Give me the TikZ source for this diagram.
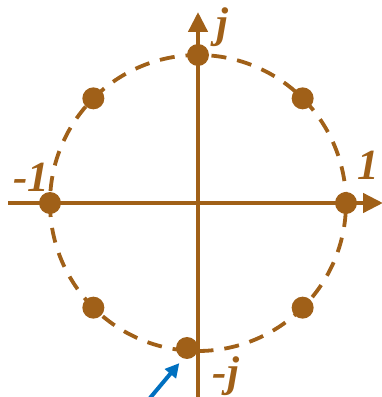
\documentclass[tikz,border=0pt]{standalone}
\usepackage{fontspec}
\setmainfont{Liberation Serif}
\usetikzlibrary{arrows.meta,calc}
\definecolor{brn}{RGB}{160,96,24}
\definecolor{blu}{RGB}{0,112,192}
\begin{document}
\begin{tikzpicture}[x=1pt,y=1pt,
  dotn/.style={circle,fill=brn,inner sep=0pt,minimum size=22pt},
  lbl/.style={text=brn,inner sep=0pt,font=\fontsize{43}{43}\selectfont\bfseries\itshape},
  axis/.style={draw=brn,line width=4.5pt,-{Triangle[length=20pt,width=19pt]}}]
\useasboundingbox (0,0) rectangle (382,397);
\coordinate (C) at (198,194);
\draw[brn,line width=3.8pt,dash pattern=on 15pt off 11pt,dash phase=4pt] (C) circle[radius=148];
\coordinate (xl) at (8,194);
\coordinate (xr) at (383,194);
\coordinate (yb) at (198,-2);
\coordinate (yt) at (198,385);
\draw[axis] (xl) -- (xr);
\draw[axis] (yb) -- (yt);
\node[dotn] (p0) at ($(C)+(0:148)$) {};
\node[dotn] (p45) at ($(C)+(45:148)$) {};
\node[dotn] (p90) at ($(C)+(90:148)$) {};
\node[dotn] (p135) at ($(C)+(135:148)$) {};
\node[dotn] (p180) at ($(C)+(180:148)$) {};
\node[dotn] (p225) at ($(C)+(225:148)$) {};
\node[dotn] (p315) at ($(C)+(315:148)$) {};
\node[dotn] (p270) at (187,49) {};
\node[lbl] (lj) at (222,370) {j};
\node[lbl] (l1) at (368,232) {1};
\node[lbl] (lm1) at (31,220) {-1};
\node[lbl] (lmj) at (226,21) {-j};
\coordinate (bs) at (150,-1);
\draw[blu,line width=4pt,shorten >=6pt,-{Triangle[length=14pt,width=14pt]}] (bs) -- (p270.-110);
\end{tikzpicture}
\end{document}
